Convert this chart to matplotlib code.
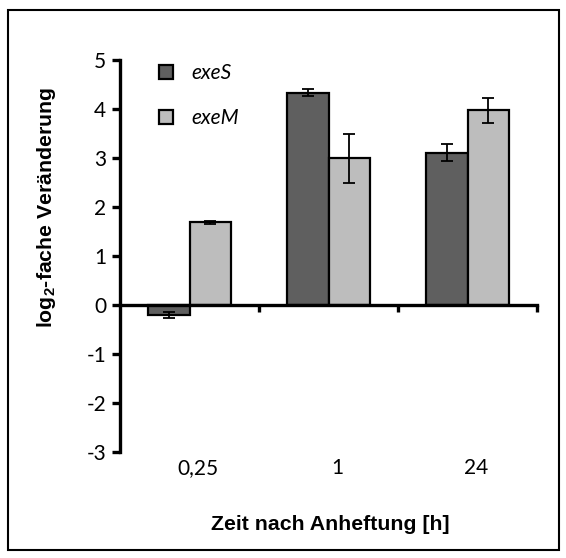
import matplotlib.pyplot as plt
from matplotlib.patches import Rectangle
import numpy as np

# Expression data (log2 fold change)
zeiten = ["0,25", "1", "24"]
exeS = [-0.21, 4.33, 3.11]
exeS_err = [0.06, 0.07, 0.18]
exeM = [1.69, 2.99, 3.97]
exeM_err = [0.03, 0.50, 0.25]
yticks = [-3, -2, -1, 0, 1, 2, 3, 4, 5]

fig = plt.figure(figsize=(5.66, 5.58), dpi=100)
W, H = 566, 558
ax = fig.add_axes([120 / W, 1 - 452 / H, (537 - 120) / W, (452 - 60) / H])

x = np.arange(len(zeiten)) + 0.5
w = 0.295
ekw = dict(ecolor="black", elinewidth=1.3, capsize=4, capthick=1.3)
ax.bar(x - w / 2, exeS, w, color="#5f5f5f", edgecolor="black", linewidth=1.6,
       yerr=exeS_err, error_kw=ekw, label="exeS", zorder=2)
ax.bar(x + w / 2, exeM, w, color="#bdbdbd", edgecolor="black", linewidth=1.6,
       yerr=exeM_err, error_kw=ekw, label="exeM", zorder=2)

ax.set_xlim(0, 3)
ax.set_ylim(-3, 5)

# axes: y spine on the left, x spine through zero
for s in ["top", "right"]:
    ax.spines[s].set_visible(False)
for s in ["left", "bottom"]:
    ax.spines[s].set_linewidth(2.4)
    ax.spines[s].set_zorder(3)
ax.spines["bottom"].set_position(("data", 0))

ax.set_yticks(yticks)
ax.set_yticklabels([str(v) for v in yticks], family="Lato", fontsize=15)
ax.tick_params(axis="y", direction="out", length=6, width=2.4, pad=4)
ax.set_xticks([1, 2, 3])
ax.set_xticklabels([])
ax.tick_params(axis="x", direction="out", length=5, width=2.4)

# category labels sit below the plot area
for xi, lab in zip(x, zeiten):
    ax.annotate(lab, (xi, -3.33), xytext=(6, 0), textcoords="offset points",
                ha="center", va="center", family="Lato", fontsize=15,
                annotation_clip=False)

fig.text(47 / W, 1 - 207 / H, "log$_\\mathregular{2}$-fache Veränderung", rotation=90,
         ha="center", va="center", family="Liberation Sans", fontweight="bold",
         fontsize=15.3)
fig.text(330 / W, 1 - 525 / H, "Zeit nach Anheftung [h]", ha="center", va="center",
         family="Liberation Sans", fontweight="bold", fontsize=15.3)

ax.legend(loc="upper left", bbox_to_anchor=(0.048, 1.04), frameon=False,
          prop=dict(family="Lato", style="italic", size=15),
          handlelength=0.67, handleheight=0.67, handletextpad=0.9, labelspacing=1.2)

# outer frame
fig.patches.append(Rectangle((8 / W, 1 - 550 / H), (559 - 8) / W, (550 - 10) / H,
                             transform=fig.transFigure, fill=False, edgecolor="black",
                             linewidth=1.5))

fig.savefig("out.png", dpi=100)
